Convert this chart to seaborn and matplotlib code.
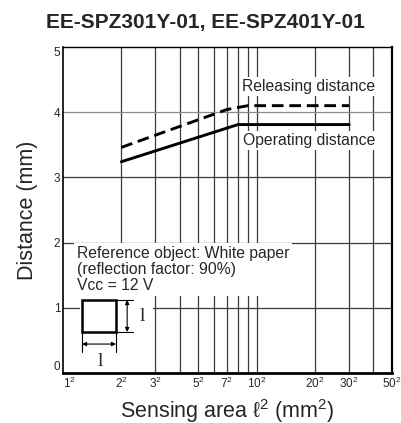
import matplotlib
matplotlib.use("Agg")
import matplotlib.pyplot as plt
import seaborn as sns
import pandas as pd
from matplotlib.patches import Rectangle

# sensing area (mm^2) vs distance (mm)
op_area = [4, 64, 900]
op_dist = [3.24, 3.81, 3.81]
rel_area = [4, 49, 81, 900]
rel_dist = [3.46, 4.04, 4.10, 4.10]

tick_sides = [1, 2, 3, 5, 7, 10, 20, 30, 50]
grid_sides = [2, 3, 4, 5, 6, 7, 8, 9, 10, 20, 30, 40]

df = pd.concat([
    pd.DataFrame({"area": op_area, "dist": op_dist, "kind": "Operating"}),
    pd.DataFrame({"area": rel_area, "dist": rel_dist, "kind": "Releasing"}),
])

sns.set_style("white")
plt.rcParams["font.family"] = ["Liberation Sans", "DejaVu Sans"]
plt.rcParams["mathtext.fontset"] = "custom"
plt.rcParams["mathtext.rm"] = "Liberation Sans"
plt.rcParams["mathtext.it"] = "Liberation Sans:italic"
plt.rcParams["mathtext.default"] = "regular"

fig, ax = plt.subplots(figsize=(4.01, 4.23), dpi=100)
fig.subplots_adjust(left=0.157, right=0.978, top=0.889, bottom=0.118)

ax.set_xscale("log")
ax.set_xlim(1, 2500)
ax.set_ylim(0, 5)

# grid
for s in grid_sides:
    ax.axvline(s ** 2, color="#3a3a3a", lw=0.9, zorder=1)
for y in [1, 2, 3, 4]:
    ax.axhline(y, color="#3a3a3a" if y != 4 else "#8a8a8a", lw=0.9, zorder=1)

sns.lineplot(data=df, x="area", y="dist", style="kind",
             dashes={"Operating": "", "Releasing": (4, 2)},
             color="black", lw=2.1, legend=False, ax=ax, zorder=3)

ax.set_xticks([s ** 2 for s in tick_sides])
ax.set_xticklabels([f"${s}^2$" for s in tick_sides], fontsize=8.5)
ax.xaxis.set_minor_locator(matplotlib.ticker.NullLocator())
ax.set_yticks([0, 1, 2, 3, 4, 5])
ax.set_yticklabels(["0", "1", "2", "3", "4", "5"], fontsize=8.5)
ax.tick_params(axis="both", direction="in", length=3.5, width=0.8, pad=2)
xl = ax.get_xticklabels()
xl[0].set_horizontalalignment("left")
yl = ax.get_yticklabels()
yl[0].set_verticalalignment("bottom")
yl[-1].set_verticalalignment("top")

ax.set_xlabel(r"Sensing area $\ell^2$ (mm$^2$)", fontsize=15.5, labelpad=4)
ax.set_ylabel("Distance (mm)", fontsize=15.5, labelpad=11)
ax.set_title("EE-SPZ301Y-01, EE-SPZ401Y-01", fontsize=15,
             fontweight="bold", pad=14, x=0.432)

for side, w in {"left": 1.2, "top": 1.0, "right": 1.6, "bottom": 2.0}.items():
    ax.spines[side].set_linewidth(w)
    ax.spines[side].set_color("black")
    ax.spines[side].set_zorder(5)

wb = dict(facecolor="white", edgecolor="none", pad=1.5)
ax.text(0.948, 0.879, "Releasing distance", transform=ax.transAxes,
        ha="right", va="center", fontsize=11.3, bbox=wb, zorder=4)
ax.text(0.948, 0.712, "Operating distance", transform=ax.transAxes,
        ha="right", va="center", fontsize=11.3, bbox=wb, zorder=4)
ax.text(0.042, 0.39, "Reference object: White paper\n(reflection factor: 90%)\nVcc = 12 V",
        transform=ax.transAxes, ha="left", va="top", fontsize=11.3,
        linespacing=1.1, bbox=dict(facecolor="white", edgecolor="none", pad=2), zorder=4)

# white area behind the size diagram
ax.add_patch(Rectangle((0.052, 0.004), 0.222, 0.232, transform=ax.transAxes,
                       facecolor="white", edgecolor="none", zorder=2))
ax.add_patch(Rectangle((0.058, 0.126), 0.103, 0.098, transform=ax.transAxes,
                       facecolor="none", edgecolor="black", lw=1.8, zorder=4))
tr = ax.transAxes
ax.plot([0.161, 0.213], [0.224, 0.224], color="black", lw=0.8, transform=tr, zorder=4)
ax.plot([0.161, 0.213], [0.126, 0.126], color="black", lw=0.8, transform=tr, zorder=4)
ax.annotate("", xy=(0.195, 0.224), xytext=(0.195, 0.126), xycoords=tr,
            arrowprops=dict(arrowstyle="<|-|>", color="black", lw=0.8,
                            mutation_scale=6, shrinkA=0, shrinkB=0), zorder=4)
ax.plot([0.058, 0.058], [0.126, 0.064], color="black", lw=0.8, transform=tr, zorder=4)
ax.plot([0.161, 0.161], [0.126, 0.064], color="black", lw=0.8, transform=tr, zorder=4)
ax.annotate("", xy=(0.058, 0.089), xytext=(0.161, 0.089), xycoords=tr,
            arrowprops=dict(arrowstyle="<|-|>", color="black", lw=0.8,
                            mutation_scale=6, shrinkA=0, shrinkB=0), zorder=4)
ax.text(0.24, 0.175, "l", transform=tr, ha="center", va="center",
        fontsize=14, family="Liberation Serif", zorder=4)
ax.text(0.115, 0.035, "l", transform=tr, ha="center", va="center",
        fontsize=14, family="Liberation Serif", zorder=4)

fig.savefig("out.png", dpi=100)
